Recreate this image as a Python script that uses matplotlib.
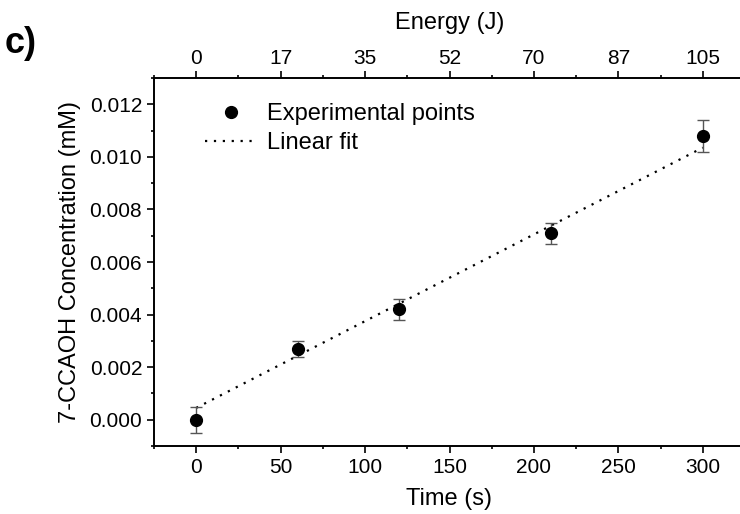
import numpy as np
import matplotlib
matplotlib.use("Agg")
import matplotlib.pyplot as plt
from matplotlib.ticker import MultipleLocator, FormatStrFormatter

plt.rcParams['font.family'] = ['Liberation Sans', 'DejaVu Sans']

# data
time_s = [0, 60, 120, 210, 300]
conc_mM = [0.0000, 0.0027, 0.0042, 0.0071, 0.0108]
conc_err = [0.0005, 0.0003, 0.0004, 0.0004, 0.0006]

# linear fit as drawn (intercept, slope)
fit_intercept = 0.00045
fit_slope = 3.3e-5

time_ticks = [0, 50, 100, 150, 200, 250, 300]
energy_labels = ['0', '17', '35', '52', '70', '87', '105']

fig = plt.figure(figsize=(7.4, 5.14), dpi=100)
ax = fig.add_axes([154/740, 1 - 446/514, 591/740, 368/514])

# error bars alone, then the points (so the legend shows just a dot)
ax.errorbar(time_s, conc_mM, yerr=conc_err, fmt='none',
            ecolor='#555555', elinewidth=1.0, capsize=4, capthick=1.0, zorder=3)
ax.plot(time_s, conc_mM, 'o', color='black', ms=8.5,
        label='Experimental points', zorder=4)

xfit = np.array([0, 300])
ax.plot(xfit, fit_intercept + fit_slope * xfit, color='black', lw=1.6,
        linestyle=(0, (1, 3)), label='Linear fit', zorder=2)

ax.set_xlim(-25, 325)
ax.set_ylim(-0.001, 0.013)
ax.set_xticks(time_ticks)
ax.set_yticks(np.arange(0, 0.0121, 0.002))
ax.yaxis.set_major_formatter(FormatStrFormatter('%.3f'))
ax.xaxis.set_minor_locator(MultipleLocator(25))
ax.yaxis.set_minor_locator(MultipleLocator(0.001))

for s in ax.spines.values():
    s.set_linewidth(1.2)
ax.tick_params(which='major', direction='out', length=5, width=1.2, labelsize=15)
ax.tick_params(which='minor', direction='out', length=2.5, width=1.2)

ax.set_xlabel('Time (s)', fontsize=17, labelpad=8)
ax.set_ylabel('7-CCAOH Concentration (mM)', fontsize=17, labelpad=6)

# top axis: energy
ax2 = ax.twiny()
ax2.set_xlim(ax.get_xlim())
ax2.set_xticks(time_ticks)
ax2.set_xticklabels(energy_labels)
ax2.xaxis.set_minor_locator(MultipleLocator(25))
ax2.tick_params(which='major', direction='out', length=5, width=1.2, labelsize=15,
                pad=2.5)
ax2.tick_params(which='minor', direction='out', length=2.5, width=1.2)
ax2.set_xlabel('Energy (J)', fontsize=17, labelpad=14)
for s in ax2.spines.values():
    s.set_linewidth(1.2)

ax.legend(loc='upper left', bbox_to_anchor=(0.086, 0.931), frameon=False,
          fontsize=17, handlelength=2.2, handletextpad=0.42,
          borderaxespad=0, borderpad=0, labelspacing=0.3)

fig.text(0.006, 0.916, 'c)', fontsize=26, fontweight='bold', va='center')

fig.savefig('out.png', dpi=100)
